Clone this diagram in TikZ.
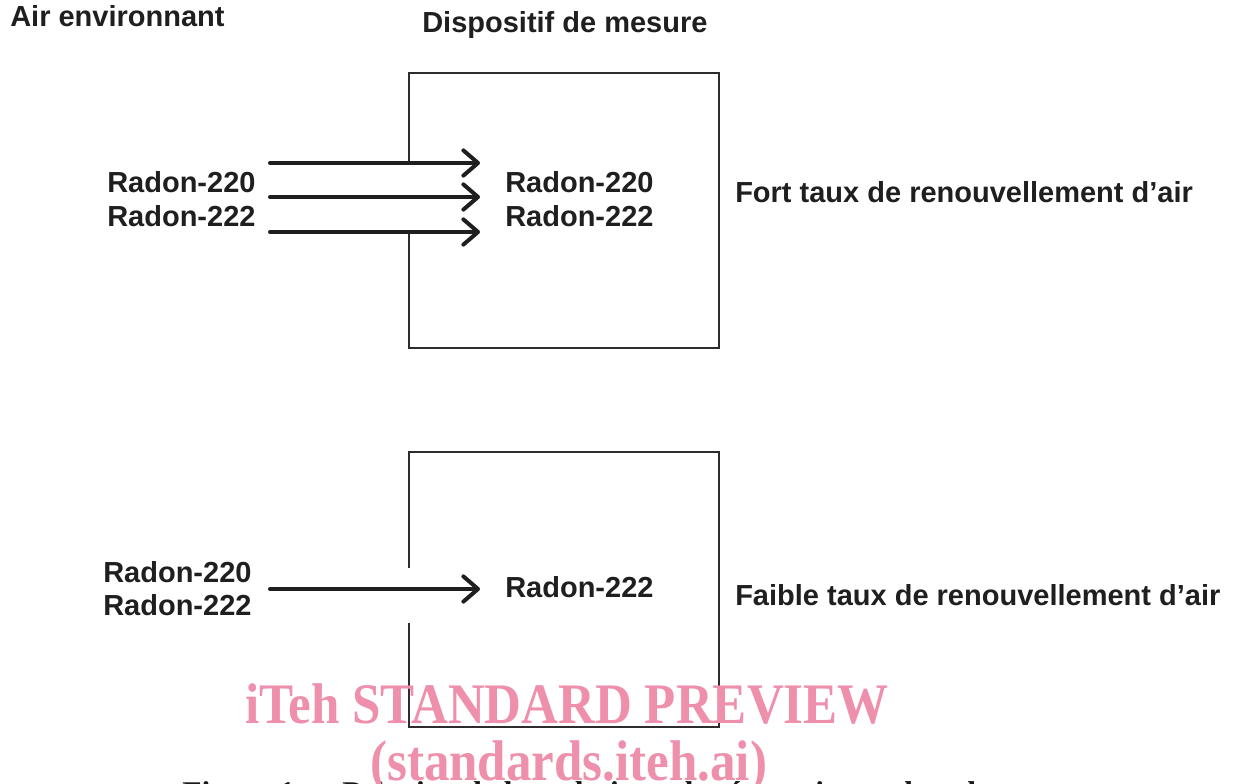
\documentclass[tikz,border=0pt]{standalone}
\usepackage{graphicx}
\usepackage{fontspec}
\setmainfont{Liberation Serif}
\newfontfamily\labelfont{Liberation Sans}
\usetikzlibrary{arrows.meta}
\definecolor{stampink}{RGB}{238,143,172}
\definecolor{linegray}{RGB}{45,45,45}

\begin{document}
\begin{tikzpicture}[x=0.75pt,y=-0.75pt,
  lbl/.style={anchor=base west,inner sep=0pt,text=black!88,
    font=\labelfont\bfseries\fontsize{21.75}{26}\selectfont},
  box/.style={draw=linegray,line width=1.4pt},
  flow/.style={line width=3pt,line cap=round,black!88,
    -{Straight Barb[length=11pt,width=19pt,round]}},
  stamp/.style={anchor=base west,inner sep=0pt,text=stampink,
    font=\bfseries\fontsize{43}{50}\selectfont}]
\useasboundingbox (0,0) rectangle (1235,784);

% Headings
\node[lbl] (air) at (10,27) {Air environnant};
\node[lbl] (dev) at (422,33) {Dispositif de mesure};

% Upper device, wall open between the arrows
\draw[box] (409,163) -- (409,73) -- (719,73) -- (719,348) -- (409,348) -- (409,232);
\node[lbl] (inA) at (107,193) {Radon-220};
\node[lbl] (inB) at (107,227) {Radon-222};
\foreach \y [count=\k] in {163,197,232} {
    \coordinate (ts\k) at (270,\y);
    \coordinate (te\k) at (480,\y);
    \draw[flow] (ts\k) -- (te\k);
}
\node[lbl] (topA) at (505,193) {Radon-220};
\node[lbl] (topB) at (505,227) {Radon-222};
\node[lbl] (fort) at (735,203) {Fort taux de renouvellement d’air};

% Lower device, small opening
\draw[box] (409,568) -- (409,452) -- (719,452) -- (719,727) -- (409,727) -- (409,623);
\node[lbl] (lowA) at (103,582) {Radon-220};
\node[lbl] (lowB) at (103,615) {Radon-222};
\coordinate (bs) at (270,589);
\coordinate (be) at (480,589);
\draw[flow] (bs) -- (be);
\node[lbl] (botB) at (505,597) {Radon-222};
\node[lbl] (faible) at (735,605) {Faible taux de renouvellement d’air};

% Preview stamp and caption (cut at the page edge)
\node[anchor=base west,inner sep=0pt,text=black!90,
  font=\bfseries\fontsize{23.7}{28}\selectfont] (cap) at (182,803)
  {Figure 1 — Principe de la technique de séparation radon-thoron};
\node[stamp] (wm1) at (245,723) {\scalebox{0.89}[1]{iTeh STANDARD PREVIEW}};
\node[stamp] (wm2) at (370,780) {\scalebox{0.89}[1]{(standards.iteh.ai)}};
\end{tikzpicture}
\end{document}
